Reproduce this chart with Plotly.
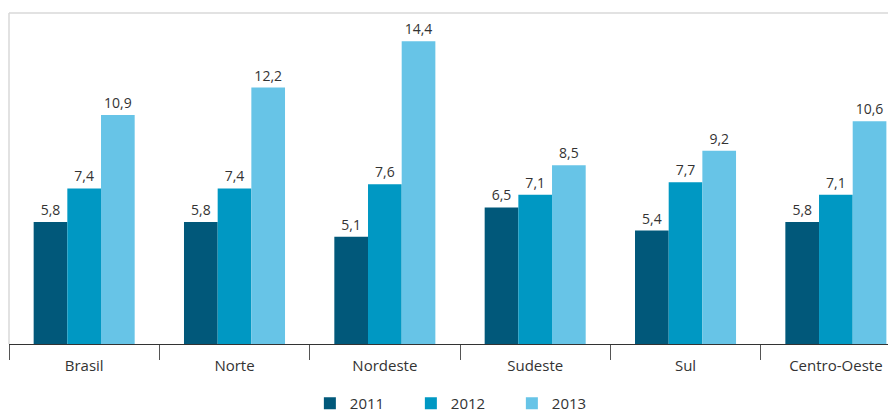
import plotly.graph_objects as go

categories = ["Brasil", "Norte", "Nordeste", "Sudeste", "Sul", "Centro-Oeste"]
years = ["2011", "2012", "2013"]
v2011 = [5.8, 5.8, 5.1, 6.5, 5.4, 5.8]
v2012 = [7.4, 7.4, 7.6, 7.1, 7.7, 7.1]
v2013 = [10.9, 12.2, 14.4, 8.5, 9.2, 10.6]
colors = ["#01587A", "#0098C3", "#67C4E7"]

fig = go.Figure()
for name, vals, col in zip(years, [v2011, v2012, v2013], colors):
    fig.add_trace(go.Bar(
        x=categories, y=vals, name=name, marker_color=col, marker_line_width=0,
        texttemplate="%{y:.1f}", textposition="outside", cliponaxis=False,
        textfont=dict(size=14, color="#333333", family="Open Sans"),
    ))

fig.update_layout(
    width=888, height=405,
    margin=dict(l=1, r=0, t=5, b=69, autoexpand=False),
    paper_bgcolor="white", plot_bgcolor="white",
    separators=",.",
    barmode="group", bargap=0.328, bargroupgap=0,
    font=dict(family="Open Sans", size=15, color="#333333"),
    showlegend=True,
    legend=dict(orientation="h", x=0.51, xanchor="center", y=-0.13, yanchor="top",
                entrywidth=56, font=dict(size=15, color="#333333"),
                traceorder="normal"),
    xaxis=dict(range=[-0.5, 5.40], showline=True, linecolor="#333333", linewidth=1,
               ticks="outside", tickson="boundaries", ticklen=15, tickcolor="#555555",
               ticklabelstandoff=8,
               tickfont=dict(size=15, color="#333333"), showgrid=False, zeroline=False),
    yaxis=dict(range=[0, 15.75], showgrid=False, zeroline=False, showticklabels=False,
               showline=False),
    shapes=[
        dict(type="line", xref="paper", yref="paper", x0=0, x1=0, y0=0, y1=1,
             line=dict(color="#d9d9d9", width=1.5)),
        dict(type="line", xref="paper", yref="paper", x0=0, x1=1, y0=1, y1=1,
             line=dict(color="#d9d9d9", width=1.5)),
    ],
)

fig.write_html("out.html")
